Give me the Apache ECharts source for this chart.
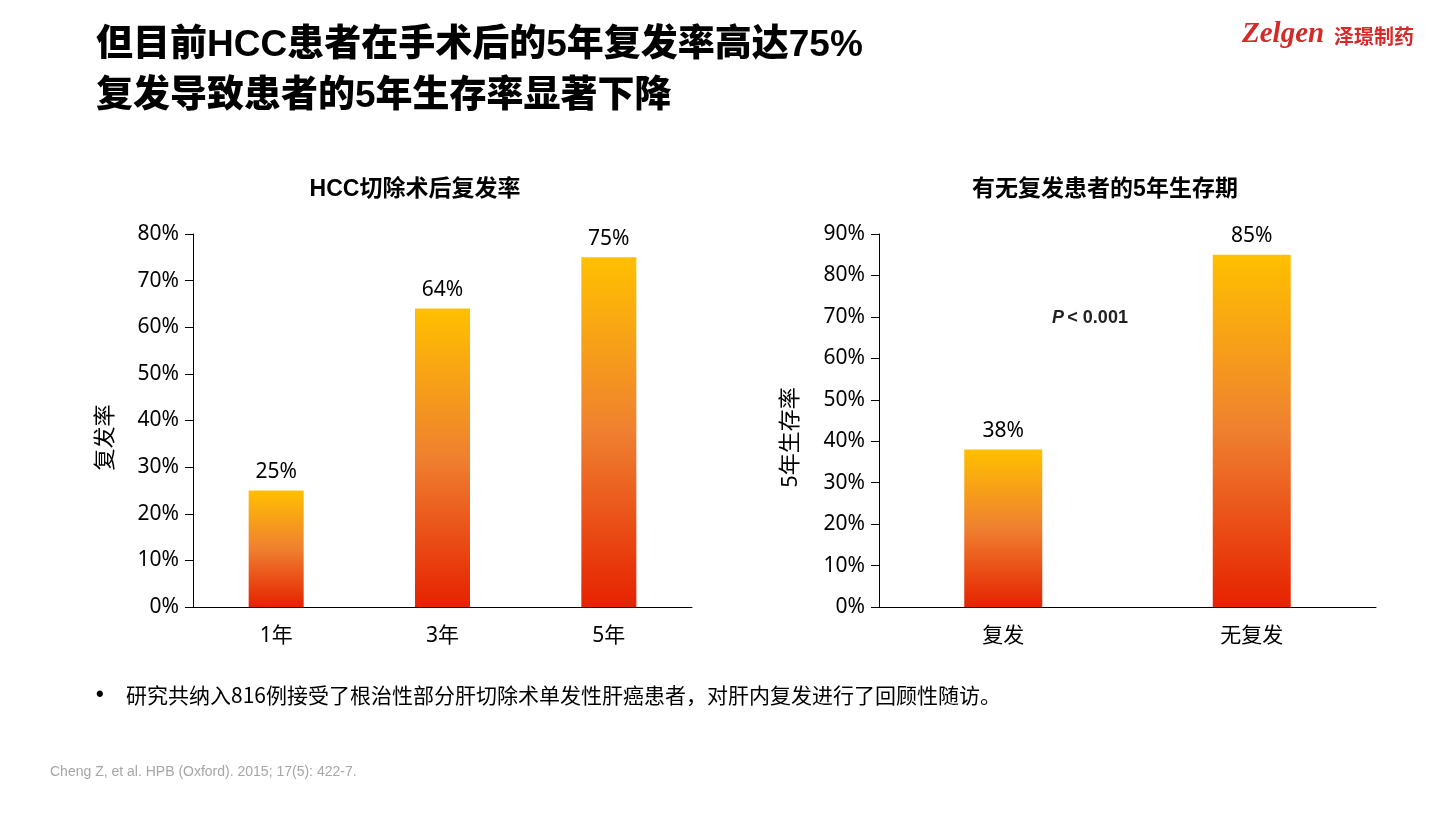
<!DOCTYPE html>
<html>
<head>
<meta charset="utf-8">
<script src="https://cdn.jsdelivr.net/npm/echarts@6/dist/echarts.min.js"></script>
<style>
  html, body { margin: 0; padding: 0; background: #fff; }
  #chart { width: 1451px; height: 816px; }
</style>
</head>
<body>
<div id="chart"></div>
<script>
// --- data ---
const recurCategories = ["1年", "3年", "5年"];
const recurValues = [25, 64, 75];
const survivalCategories = ["复发", "无复发"];
const survivalValues = [38, 85];
const recurTicks = [0, 10, 20, 30, 40, 50, 60, 70, 80];
const survivalTicks = [0, 10, 20, 30, 40, 50, 60, 70, 80, 90];

const FONT = '"Noto Sans", "Noto Sans CJK SC", sans-serif';
const HEAD = '"Liberation Sans", "Noto Sans CJK SC", sans-serif';

document.addEventListener("DOMContentLoaded", function () {
  const chart = echarts.init(document.getElementById("chart"));

  const barColor = new echarts.graphic.LinearGradient(0, 0, 0, 1, [
    { offset: 0, color: "#ffc000" },
    { offset: 0.5, color: "#ef8030" },
    { offset: 1, color: "#e62200" },
  ]);

  function valueAxis(gridIndex, ticks, name, nameGap) {
    return {
      type: "value",
      gridIndex: gridIndex,
      min: ticks[0],
      max: ticks[ticks.length - 1],
      interval: 10,
      name: name,
      nameLocation: "middle",
      nameGap: nameGap,
      nameRotate: 90,
      nameTextStyle: { color: "#000", fontSize: 22, fontFamily: FONT, padding: [0, 34, 0, 0] },
      axisLine: { show: true, lineStyle: { color: "#000", width: 1 } },
      axisTick: { show: true, length: 8, lineStyle: { color: "#000" } },
      axisLabel: {
        color: "#000",
        fontSize: 21,
        fontFamily: FONT,
        margin: 14,
        formatter: "{value}%",
      },
      splitLine: { show: false },
    };
  }

  function categoryAxis(gridIndex, data) {
    return {
      type: "category",
      gridIndex: gridIndex,
      data: data,
      axisLine: { lineStyle: { color: "#000", width: 1 } },
      axisTick: { show: false },
      axisLabel: { color: "#000", fontSize: 21, fontFamily: FONT, margin: 19 },
    };
  }

  function barSeries(idx, values, width) {
    return {
      type: "bar",
      xAxisIndex: idx,
      yAxisIndex: idx,
      data: values,
      barWidth: width,
      itemStyle: { color: barColor },
      label: {
        show: true,
        position: "top",
        distance: 8,
        formatter: "{c}%",
        color: "#000",
        fontSize: 21,
        fontFamily: FONT,
      },
    };
  }

  const option = {
    animation: false,
    backgroundColor: "#fff",
    title: [
      {
        text: "HCC切除术后复发率",
        left: 410,
        top: 173,
        textAlign: "center",
        textStyle: { fontSize: 23, fontWeight: "bold", color: "#000", fontFamily: HEAD },
      },
      {
        text: "有无复发患者的5年生存期",
        left: 1100,
        top: 173,
        textAlign: "center",
        textStyle: { fontSize: 23, fontWeight: "bold", color: "#000", fontFamily: HEAD },
      },
    ],
    grid: [
      { left: 193, top: 234, width: 499, height: 373 },
      { left: 879, top: 234, width: 497, height: 373 },
    ],
    xAxis: [categoryAxis(0, recurCategories), categoryAxis(1, survivalCategories)],
    yAxis: [
      valueAxis(0, recurTicks, "复发率", 76),
      valueAxis(1, survivalTicks, "5年生存率", 77),
    ],
    series: [barSeries(0, recurValues, 55), barSeries(1, survivalValues, 78)],
    graphic: [
      {
        type: "text",
        left: 96,
        top: 20,
        style: {
          text: "但目前HCC患者在手术后的5年复发率高达75%\n复发导致患者的5年生存率显著下降",
          fill: "#000",
          font: '900 37px "Liberation Sans", "Noto Sans CJK SC", sans-serif',
          lineHeight: 51,
        },
      },
      {
        type: "text",
        left: 1242,
        top: 20,
        style: {
          text: "Zelgen",
          fill: "#d42a2a",
          font: 'italic bold 29px "Liberation Serif", serif',
        },
      },
      {
        type: "text",
        left: 1334,
        top: 26,
        style: {
          text: "泽璟制药",
          fill: "#d42a2a",
          font: 'bold 20px "Noto Sans CJK SC", sans-serif',
        },
      },
      {
        type: "text",
        left: 1052,
        top: 309,
        style: {
          text: "{i|P} {b|< 0.001}",
          rich: {
            i: { font: 'italic bold 18px "Liberation Sans", Arial, sans-serif', fill: "#222" },
            b: { font: 'bold 18px "Liberation Sans", Arial, sans-serif', fill: "#222" },
          },
        },
      },
      {
        type: "text",
        left: 96,
        top: 684,
        style: { text: "•", fill: "#000", font: 'bold 22px "Liberation Sans", sans-serif' },
      },
      {
        type: "text",
        left: 126,
        top: 685,
        style: {
          text: "研究共纳入816例接受了根治性部分肝切除术单发性肝癌患者，对肝内复发进行了回顾性随访。",
          fill: "#000",
          font: '21px "Noto Sans CJK SC", sans-serif',
        },
      },
      {
        type: "text",
        left: 50,
        top: 765,
        style: {
          text: "Cheng Z, et al. HPB (Oxford). 2015; 17(5): 422-7.",
          fill: "#a6a6a6",
          font: '14px "Liberation Sans Narrow", "Liberation Sans", sans-serif',
        },
      },
    ],
  };

  chart.setOption(option);
  window.addEventListener("resize", function () {
    chart.resize();
  });
});
</script>
</body>
</html>
